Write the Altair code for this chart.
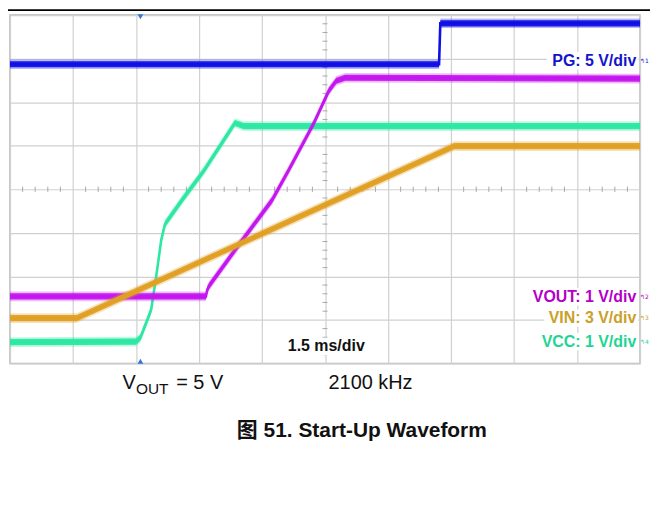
import altair as alt
import pandas as pd

# ---- scope traces (x: time divisions 0..10, y: vertical divisions 0..8) ----
pg_x = [0, 6.81, 6.83, 10]
pg_y = [6.87, 6.87, 7.81, 7.81]

vcc_x = [0, 2.00, 2.07, 2.18, 2.24, 2.32, 2.40, 2.46, 2.73, 3.08, 3.57, 3.71, 10]
vcc_y = [0.49, 0.50, 0.59, 1.00, 1.23, 1.99, 2.83, 3.20, 3.75, 4.43, 5.52, 5.45, 5.45]

vout_x = [0, 3.11, 3.13, 3.16, 3.63, 4.16, 4.42, 4.82, 5.06, 5.18, 5.32, 10]
vout_y = [1.54, 1.54, 1.69, 1.78, 2.72, 3.75, 4.43, 5.51, 6.26, 6.49, 6.56, 6.54]

vin_x = [0, 1.06, 7.05, 10]
vin_y = [1.04, 1.04, 4.99, 4.99]

trace_colors = {"PG": "#1010e6", "VCC": "#2ce8a2", "VOUT": "#c416ee", "VIN": "#e0a024"}

# ---- channel labels ----
label_text = ["PG: 5 V/div", "VOUT: 1 V/div", "VIN: 3 V/div", "VCC: 1 V/div"]
label_y = [6.95, 1.53, 1.04, 0.50]
label_color = ["#1414cc", "#b400c8", "#c9a12a", "#1fd494"]
label_left = [8.52, 8.16, 8.48, 8.38]
icon_text = ["↰1", "↰2", "↰3", "↰4"]

timebase_text = "1.5 ms/div"
timebase_x, timebase_y = 5.02, 0.39

# ---- texts under the screenshot ----
cap_text = ["V", "OUT", "= 5 V", "2100 kHz"]
cap_px = [113, 126.5, 167, 320]
cap_py = [376, 381, 376, 376]
cap_size = [20, 15.5, 20, 20]
title_text = "图 51. Start-Up Waveform"

grid_x = list(range(11))
grid_y = list(range(9))
minor_x = [k / 5 for k in range(1, 50) if k % 5 != 0]
minor_y = [k / 5 for k in range(1, 40) if k % 5 != 0]

xs = alt.Scale(domain=[0, 10], nice=False, zero=False)
ys = alt.Scale(domain=[0, 8], nice=False, zero=False)
xaxis = alt.Axis(values=grid_x, grid=True, labels=False, ticks=False, domain=False,
                 gridColor="#d0d0d0", gridWidth=1.2)
yaxis = alt.Axis(values=grid_y, grid=True, labels=False, ticks=False, domain=False,
                 gridColor="#d0d0d0", gridWidth=1.2)


def X(field):
    return alt.X(field, scale=xs, axis=xaxis, title=None)


def Y(field):
    return alt.Y(field, scale=ys, axis=yaxis, title=None)


FONT = "Liberation Sans, Arial, Noto Sans CJK SC, sans-serif"

# minor ticks on the centre cross
mx = pd.DataFrame({"x": minor_x, "y": 3.94, "y2": 4.06})
my = pd.DataFrame({"y": minor_y, "x": 4.96, "x2": 5.04})
ticks_h = alt.Chart(mx).mark_rule(color="#a8a8a8", strokeWidth=1).encode(
    x=X("x:Q"), y=Y("y:Q"), y2="y2:Q")
ticks_v = alt.Chart(my).mark_rule(color="#a8a8a8", strokeWidth=1).encode(
    y=Y("y:Q"), x=X("x:Q"), x2="x2:Q")

# label backgrounds
bg = pd.DataFrame({
    "x": label_left + [4.36],
    "x2": [9.97] * 4 + [5.69],
    "y": [v - 0.2 for v in label_y] + [timebase_y - 0.2],
    "y2": [v + 0.2 for v in label_y] + [timebase_y + 0.2],
})
bg_layer = alt.Chart(bg).mark_rect(color="white").encode(
    x=X("x:Q"), x2="x2:Q", y=Y("y:Q"), y2="y2:Q")


def trace(xv, yv, color):
    df = pd.DataFrame({"x": xv, "y": yv})
    df["lo_out"] = df["y"] - 0.11
    df["hi_out"] = df["y"] + 0.11
    df["lo_in"] = df["y"] - 0.07
    df["hi_in"] = df["y"] + 0.07
    base = alt.Chart(df)
    outer = base.mark_area(color=color, opacity=0.3, orient="vertical").encode(
        x=X("x:Q"), y=Y("lo_out:Q"), y2="hi_out:Q")
    inner = base.mark_area(color=color, opacity=0.95, orient="vertical").encode(
        x=X("x:Q"), y=Y("lo_in:Q"), y2="hi_in:Q")
    core = base.mark_line(color=color, strokeWidth=2.6).encode(x=X("x:Q"), y=Y("y:Q"))
    return [outer, inner, core]


layers = [ticks_h, ticks_v, bg_layer]
layers += trace(pg_x, pg_y, trace_colors["PG"])
layers += trace(vcc_x, vcc_y, trace_colors["VCC"])
layers += trace(vout_x, vout_y, trace_colors["VOUT"])
layers += trace(vin_x, vin_y, trace_colors["VIN"])

lab = pd.DataFrame({"text": label_text, "x": 9.94, "y": label_y, "color": label_color})
labels = alt.Chart(lab).mark_text(align="right", baseline="middle", font=FONT,
                                  fontSize=16, fontWeight="bold").encode(
    x=X("x:Q"), y=Y("y:Q"), text="text:N", color=alt.Color("color:N", scale=None))

icons = pd.DataFrame({"text": icon_text, "x": 10.0, "y": label_y, "color": label_color})
icon_layer = alt.Chart(icons).mark_text(align="left", baseline="middle", font="DejaVu Sans",
                                        fontSize=6).encode(
    x=X("x:Q"), y=Y("y:Q"), text="text:N", color=alt.Color("color:N", scale=None))

tb = pd.DataFrame({"text": [timebase_text], "x": [timebase_x], "y": [timebase_y]})
tb_layer = alt.Chart(tb).mark_text(align="center", baseline="middle", font=FONT,
                                   fontSize=16, fontWeight="bold", color="#111111").encode(
    x=X("x:Q"), y=Y("y:Q"), text="text:N")

trig = pd.DataFrame({"x": [2.07, 2.07], "y": [7.96, 0.05],
                     "shape": ["triangle-down", "triangle-up"]})
trig_layer = alt.Chart(trig).mark_point(filled=True, size=32, color="#2f74e0", opacity=1).encode(
    x=X("x:Q"), y=Y("y:Q"), shape=alt.Shape("shape:N", scale=None))

dummy = pd.DataFrame({"a": [0]})
top_line = alt.Chart(dummy).mark_rule(color="black", strokeWidth=1.6).encode(
    x=alt.value(-10), x2=alt.value(650), y=alt.value(-5))

cap_layers = []
for t, px, py, sz in zip(cap_text, cap_px, cap_py, cap_size):
    cap_layers.append(
        alt.Chart(dummy).mark_text(align="left", baseline="alphabetic", font=FONT,
                                   fontSize=sz, color="#111111", text=t).encode(
            x=alt.value(px), y=alt.value(py)))

title_layer = alt.Chart(dummy).mark_text(align="center", baseline="alphabetic", font=FONT,
                                         fontSize=21, fontWeight="bold", color="#111111",
                                         text=title_text).encode(
    x=alt.value(353.5), y=alt.value(424))

layers += [labels, icon_layer, tb_layer, trig_layer, top_line] + cap_layers + [title_layer]

chart = alt.layer(*layers).properties(
    width=633, height=350,
    autosize=alt.AutoSizeParams(type="none"),
    padding={"left": 2, "top": 6, "right": 10, "bottom": 112},
    background="white",
).configure_view(stroke="#b8b8b8", strokeWidth=1.5)

chart.save("out.html", embed_options={"renderer": "svg", "actions": False})
